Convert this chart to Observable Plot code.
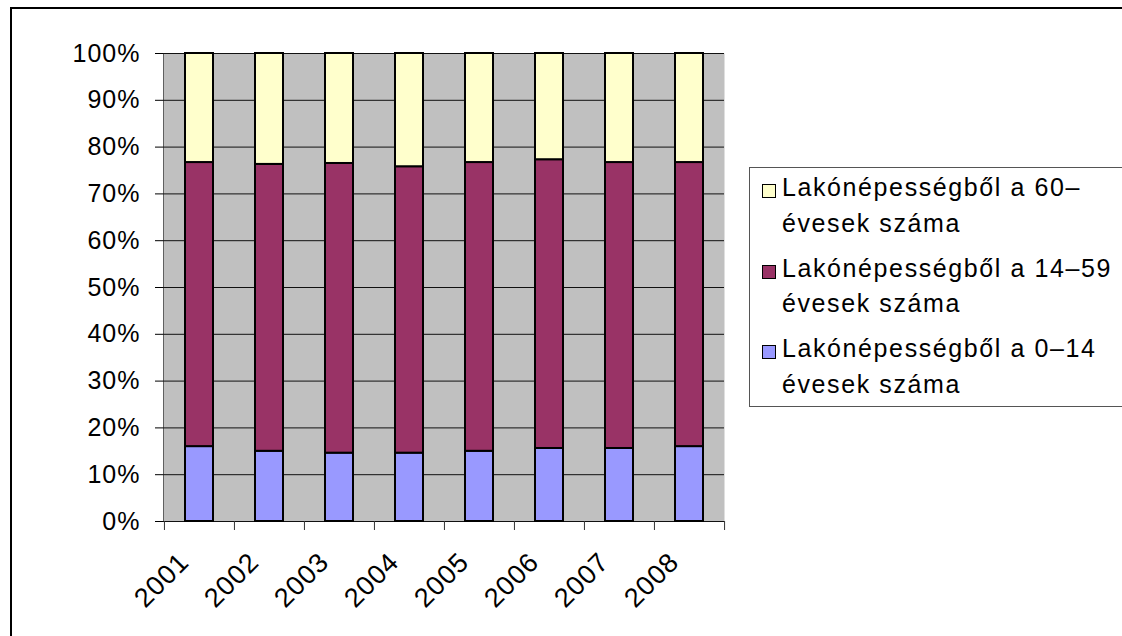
<!DOCTYPE html>
<html>
<head>
<meta charset="utf-8">
<script src="https://cdn.jsdelivr.net/npm/d3@7"></script>
<script src="https://cdn.jsdelivr.net/npm/@observablehq/plot@0.6"></script>
<style>
  html, body { margin: 0; padding: 0; background: #fff; overflow: hidden; }
  #wrap { position: relative; width: 1122px; height: 636px; overflow: hidden; font-family: "Liberation Sans", Arial, sans-serif; }
  #border { position: absolute; left: 10px; top: 7px; width: 1200px; height: 700px; border: 2px solid #000; box-sizing: border-box; }
  #chart { position: absolute; left: 0; top: 0; }
  #legend { position: absolute; left: 749px; top: 167px; width: 500px; height: 240px; border: 1.5px solid #555; box-sizing: border-box; background: #fff; }
  .item { position: absolute; left: 0; }
  .sw { position: absolute; left: 12px; width: 14px; height: 14px; border: 1.5px solid #000; box-sizing: border-box; }
  .txt { position: absolute; left: 32px; white-space: nowrap; font-size: 25px; line-height: 35.5px; letter-spacing: 1.6px; color: #000; }
</style>
</head>
<body>
<div id="wrap">
  <div id="border"></div>
  <div id="chart"></div>
  <div id="legend"></div>
</div>
<script>
// ---- data ----
const years = ["2001", "2002", "2003", "2004", "2005", "2006", "2007", "2008"];
const seriesNames = [
  "Lakónépességből a 0–14 évesek száma",
  "Lakónépességből a 14–59 évesek száma",
  "Lakónépességből a 60– évesek száma"
];
const age0to14 = [16.0, 15.0, 14.6, 14.6, 15.0, 15.6, 15.6, 16.0];
const age14to59 = [60.7, 61.3, 61.9, 61.2, 61.7, 61.7, 61.1, 60.7];
const age60plus = [23.3, 23.7, 23.5, 24.2, 23.3, 22.7, 23.3, 23.3];
const yTicks = [0, 10, 20, 30, 40, 50, 60, 70, 80, 90, 100];
const seriesColors = ["#9999FF", "#993366", "#FFFFCC"];
// legend order (top to bottom) and wrapped lines
const legendOrder = [2, 1, 0];
const legendLines = [
  ["Lakónépességből a 0–14", "évesek száma"],
  ["Lakónépességből a 14–59", "évesek száma"],
  ["Lakónépességből a 60–", "évesek száma"]
];

// ---- table ----
const seriesValues = [age0to14, age14to59, age60plus];
const rows = [];
seriesNames.forEach((s, i) => years.forEach((y, j) => rows.push({year: y, series: s, value: seriesValues[i][j]})));

const W = 1122, H = 636;
const mL = 163, mR = 398, mT = 53, mB = 115;
const step = (W - mL - mR) / years.length;

const chart = Plot.plot({
  width: W, height: H,
  marginLeft: mL, marginRight: mR, marginTop: mT, marginBottom: mB,
  style: {fontFamily: "'Liberation Sans', Arial, sans-serif", fontSize: "25px", letterSpacing: "1px", background: "transparent", color: "#000", overflow: "visible"},
  x: {domain: years, paddingInner: 0.6, paddingOuter: 0.3, label: null},
  y: {domain: [0, 100], ticks: yTicks, tickFormat: d => d + "%", tickSize: 8, tickPadding: 15, line: true, label: null},
  color: {domain: seriesNames, range: seriesColors},
  marks: [
    Plot.frame({fill: "#C0C0C0", stroke: null}),
    Plot.gridY(yTicks, {stroke: "#111", strokeOpacity: 1, strokeWidth: 1}),
    Plot.barY(rows, {x: "year", y: "value", fill: "series", stroke: "#000", strokeWidth: 2, order: seriesNames}),
    Plot.axisX({tickSize: 9, tickFormat: () => "", dx: -step / 2, stroke: "#333", label: null}),
    Plot.axisX([years[years.length - 1]], {tickSize: 9, tickFormat: () => "", dx: step / 2, stroke: "#333", label: null}),
    Plot.axisX({tickSize: 0, tickRotate: -45, tickPadding: 36, dx: -15, fontSize: 27, label: null})
  ]
});
document.getElementById("chart").appendChild(chart);

// ---- legend ----
const legend = document.getElementById("legend");
const groupTops = [2, 82.5, 163];
legendOrder.forEach((si, k) => {
  const item = document.createElement("div");
  item.className = "item";
  item.style.top = groupTops[k] + "px";
  const sw = document.createElement("div");
  sw.className = "sw";
  sw.style.background = seriesColors[si];
  sw.style.top = "14px";
  const txt = document.createElement("div");
  txt.className = "txt";
  txt.innerHTML = legendLines[si].join("<br>");
  item.appendChild(sw);
  item.appendChild(txt);
  legend.appendChild(item);
});
</script>
</body>
</html>
